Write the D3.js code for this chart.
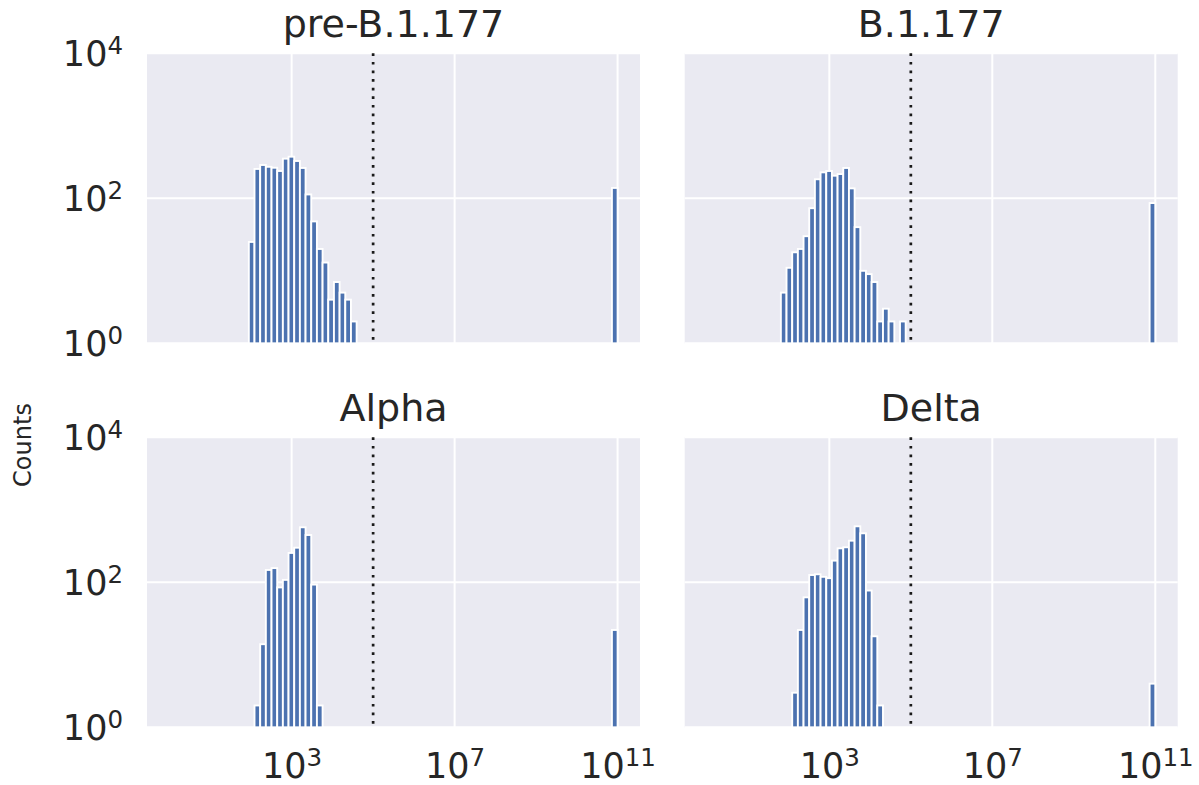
<!DOCTYPE html>
<html>
<head>
<meta charset="utf-8">
<script src="https://cdn.jsdelivr.net/npm/d3@7"></script>
<style>
  html, body { margin: 0; padding: 0; background: #ffffff; }
  svg { display: block; font-family: "DejaVu Sans", sans-serif; }
</style>
</head>
<body>
<svg id="chart" width="1199" height="785"></svg>
<script>
// Panel titles, in reading order (row by row)
const variants = ["pre-B.1.177", "B.1.177", "Alpha", "Delta"];

// Histogram bins: 80 log-spaced edges from 10^0 to 10^11 (79 bins)
const binCount = 79;
const binLowExp = 0;
const binHighExp = 11;

// Index of the first non-empty bin of each panel
const firstBin = [14, 13, 15, 15];

// Counts per bin, starting at firstBin
const preB177Counts = [25, 254, 288, 272, 264, 238, 352, 375, 327, 262, 113, 48, 20, 13, 4, 7, 5, 4, 2];
const b177Counts    = [5, 11, 18, 20, 30, 73, 183, 228, 238, 205, 216, 262, 137, 40, 10, 9, 7, 2, 3, 2, 0, 2];
const alphaCounts   = [2, 14, 148, 157, 85, 108, 254, 300, 574, 449, 93, 2];
const deltaCounts   = [3, 22, 62, 126, 129, 119, 114, 199, 294, 304, 375, 592, 474, 77, 18, 2];

// Counts in the top bin (10^10.86 – 10^11)
const overflowCounts = [139, 86, 22, 4];

// Threshold marked with the dotted line
const threshold = 1e5;

// Axis ticks
const xTicks = [1e3, 1e7, 1e11];
const yTicks = [1, 1e2, 1e4];

const seriesCounts = [preB177Counts, b177Counts, alphaCounts, deltaCounts];

// ---- layout ----
const svg = d3.select("#chart");
const panelW = 493, panelH = 290;
const panelX = [147, 684.7];
const panelY = [53.3, 437.3];
const textColor = "#262626";
const barColor = "#4C72B0";
const bgColor = "#EAEAF2";

const x = d3.scaleLog()
  .domain([Math.pow(10, binLowExp - 0.55), Math.pow(10, binHighExp + 0.55)])
  .range([0, panelW]);
const y = d3.scaleLog().domain([1, 1e4]).range([panelH, 0]);

const edges = d3.range(binCount + 1).map(i =>
  Math.pow(10, binLowExp + (binHighExp - binLowExp) * i / binCount));

function expLabel(sel, v) {
  const e = Math.round(Math.log10(v));
  sel.text(null);
  sel.append("tspan").text("10");
  sel.append("tspan").attr("font-size", "0.7em").attr("dy", "-0.5em").text(e);
}

variants.forEach((name, k) => {
  const col = k % 2, row = Math.floor(k / 2);
  const g = svg.append("g")
    .attr("transform", `translate(${panelX[col]},${panelY[row]})`);

  g.append("rect").attr("width", panelW).attr("height", panelH).attr("fill", bgColor);

  // grid
  g.append("g").selectAll("line").data(xTicks).join("line")
    .attr("x1", d => x(d)).attr("x2", d => x(d))
    .attr("y1", 0).attr("y2", panelH)
    .attr("stroke", "#ffffff").attr("stroke-width", 2);
  g.append("g").selectAll("line").data(yTicks).join("line")
    .attr("x1", 0).attr("x2", panelW)
    .attr("y1", d => y(d)).attr("y2", d => y(d))
    .attr("stroke", "#ffffff").attr("stroke-width", 2);

  // histogram bars
  const bins = seriesCounts[k].map((c, i) => ({ i: firstBin[k] + i, c }))
    .concat([{ i: binCount - 1, c: overflowCounts[k] }])
    .filter(d => d.c > 1);
  g.append("g").selectAll("rect").data(bins).join("rect")
    .attr("x", d => x(edges[d.i]))
    .attr("width", d => x(edges[d.i + 1]) - x(edges[d.i]))
    .attr("y", d => y(d.c))
    .attr("height", d => panelH - y(d.c))
    .attr("fill", barColor)
    .attr("stroke", "#ffffff")
    .attr("stroke-width", 1.9);

  // threshold line
  g.append("line")
    .attr("x1", x(threshold)).attr("x2", x(threshold))
    .attr("y1", 0).attr("y2", panelH)
    .attr("stroke", "#1a1a1a").attr("stroke-width", 2.7)
    .attr("stroke-dasharray", "2.7,5.9");

  // title
  g.append("text")
    .attr("x", panelW / 2).attr("y", -16)
    .attr("text-anchor", "middle")
    .attr("font-size", 38).attr("fill", textColor)
    .text(name);

  // y axis labels (left column only)
  if (col === 0) {
    const ax = g.append("g").call(d3.axisLeft(y).tickValues(yTicks).tickSize(0).tickPadding(24));
    ax.select(".domain").remove();
    ax.selectAll("text")
      .attr("font-size", 35).attr("fill", textColor)
      .attr("font-family", "DejaVu Sans, sans-serif")
      .attr("dy", "0.36em")
      .each(function (d) { expLabel(d3.select(this), d); });
  }
  // x axis labels (bottom row only)
  if (row === 1) {
    const ax = g.append("g").attr("transform", `translate(0,${panelH})`)
      .call(d3.axisBottom(x).tickValues(xTicks).tickSize(0).tickPadding(19));
    ax.select(".domain").remove();
    ax.selectAll("text")
      .attr("font-size", 35).attr("fill", textColor)
      .attr("font-family", "DejaVu Sans, sans-serif")
      .attr("dy", "0.9em")
      .each(function (d) { expLabel(d3.select(this), d); });
  }
});

// shared y label
svg.append("text")
  .attr("transform", "translate(31,445) rotate(-90)")
  .attr("text-anchor", "middle")
  .attr("font-size", 24).attr("fill", textColor)
  .text("Counts");
</script>
</body>
</html>
